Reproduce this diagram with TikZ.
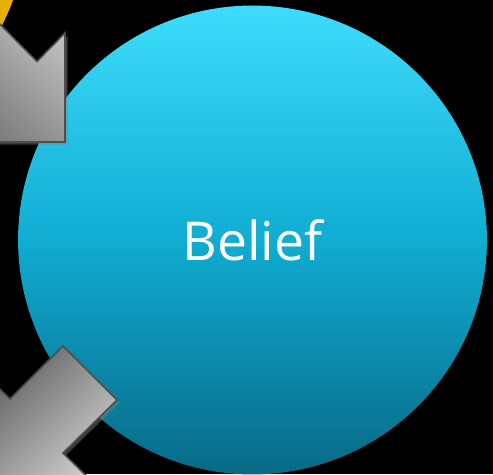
\documentclass[tikz,border=0pt]{standalone}
\usepackage{fontspec}
\newfontfamily\labelfont{Open Sans}
\usetikzlibrary{shadows}
\definecolor{belieftop}{RGB}{62,220,252}
\definecolor{beliefmid}{RGB}{16,172,210}
\definecolor{beliefbot}{RGB}{8,106,134}
\definecolor{gold}{RGB}{232,176,0}
\definecolor{arrowlight}{RGB}{204,204,204}
\definecolor{arrowdark}{RGB}{96,96,96}
\definecolor{arrowedge}{RGB}{78,78,78}

\begin{document}
\begin{tikzpicture}[x=0.02cm, y=-0.02cm,
  stage/.style={circle, inner sep=0pt, minimum size=9.38cm, text=white,
                font=\labelfont\fontsize{30.5}{36}\selectfont},
  blockarrow/.style={draw=arrowedge, line width=0.9pt, line join=miter,
                     top color=arrowlight, bottom color=arrowdark,
                     drop shadow={shadow xshift=1.5pt, shadow yshift=-1.5pt, opacity=0.45}},
]
\useasboundingbox (0,0) rectangle (493,474);
\clip (0,0) rectangle (493,474);
\fill[black] (0,0) rectangle (493,474);

\node[stage, fill=gold] (prev) at (-207,-81) {};
\node[stage, top color=belieftop, bottom color=beliefbot, middle color=beliefmid]
  (belief) at (252.5,240) {Belief};

\path[blockarrow, shading angle=-45]
  (-69,-45) -- (37,61.5) -- (65,33) -- (65,142) -- (-44,142) -- (-15.6,113.8)
  -- (-121.7,7.8) -- cycle;
\path[blockarrow, shading angle=-135]
  (63,346) -- (117,400) -- (63,453) -- (90.9,480.4) -- (-17.9,480.4)
  -- (-17.9,371.6) -- (10,399) -- cycle;
\end{tikzpicture}
\end{document}
